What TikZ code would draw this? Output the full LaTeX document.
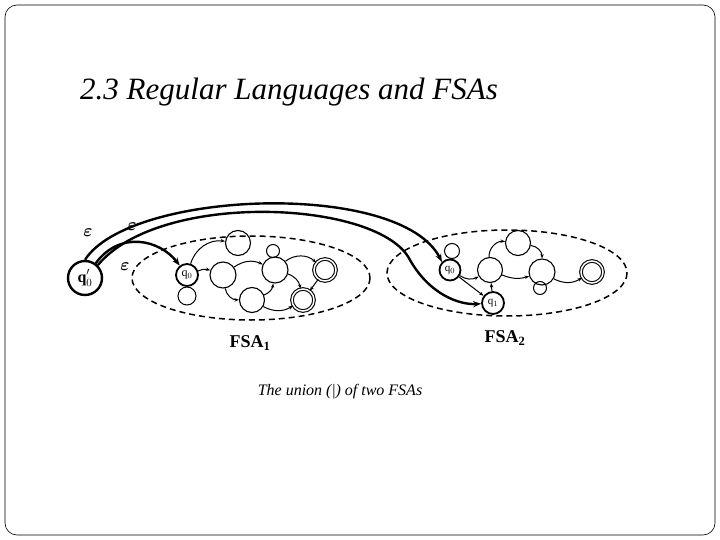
\documentclass[tikz,border=0pt]{standalone}
\usepackage{fontspec}
\setmainfont{Liberation Serif}
\usetikzlibrary{arrows.meta}
\begin{document}
\begin{tikzpicture}[x=1pt,y=-1pt,
 st/.style={circle,draw,line width=1.1pt,inner sep=0pt},
 fin/.style={st,double,double distance=1.5pt},
 lp/.style={circle,draw,line width=1pt,inner sep=0pt},
 ar/.style={-{Stealth[length=4.5pt]},line width=1pt},
 big/.style={-{Stealth[length=8pt]},line width=2.4pt},
 eps/.style={font=\fontsize{17}{18}\selectfont\boldmath},
 el/.style={draw,line width=1.5pt,dash pattern=on 6pt off 4pt}]
\useasboundingbox (0,0) rectangle (720,540);
\draw[rounded corners=12pt,line width=0.6pt] (5,5) rectangle (715,535);
\node[anchor=base west,inner sep=0pt,font=\itshape\fontsize{31}{34}\selectfont] (title) at (80,100) {2.3 Regular Languages and FSAs};
\draw[el] (251,278) ellipse [x radius=119, y radius=42];
\draw[el] (507,273) ellipse [x radius=120, y radius=43];
% FSA1
\node[st,line width=2.4pt,minimum size=34pt,font=\bfseries\fontsize{16}{16}\selectfont] (qp) at (85,278) {q$^{\prime}_{0}$};
\node[st,line width=1.8pt,minimum size=22pt,font=\fontsize{12}{12}\selectfont] (q0) at (187,275) {q$_0$};
\node[lp,minimum size=18pt] (l0) at (187,296) {};
\node[st,minimum size=25pt] (A) at (238,243) {};
\node[st,minimum size=26pt] (B) at (223,275) {};
\node[st,minimum size=25pt] (C) at (252,300) {};
\node[st,minimum size=26pt] (D) at (275,270) {};
\node[lp,minimum size=13pt] (lD) at (273,251) {};
\node[fin,minimum size=22pt] (F1) at (325,270) {};
\node[fin,minimum size=22pt] (F2) at (303,300) {};
\draw[ar] (q0) to[bend left=40] (A);
\draw[ar] (q0) to[bend left=20] (B);
\draw[ar] (B) to[bend left=30] (D);
\draw[ar] (B) to[bend right=40] (C);
\draw[ar] (C) to[bend right=30] (D);
\draw[ar] (D) to[bend left=40] (F1);
\draw[ar] (D) to[bend left=30] (F2);
\draw[ar] (C) to[bend right=30] (F2);
\draw[ar] (F1) to (F2);
\node[font=\bfseries\fontsize{18}{20}\selectfont] (L1) at (250,343) {FSA$_{\mathbf 1}$};
% FSA2
\node[st,line width=1.8pt,minimum size=21pt,font=\fontsize{11}{11}\selectfont] (r0) at (450,270) {q$_0$};
\node[lp,minimum size=15pt] (lr) at (452,251) {};
\node[st,minimum size=25pt] (B2) at (490,270) {};
\node[st,minimum size=25pt] (A2) at (518,243) {};
\node[st,minimum size=26pt] (D2) at (542,272) {};
\node[lp,minimum size=13pt] (lD2) at (540,288) {};
\node[fin,minimum size=22pt] (FF) at (592,272) {};
\node[st,line width=1.8pt,minimum size=22pt,font=\fontsize{11}{11}\selectfont] (r1) at (493,303) {q$_1$};
\draw[ar] (r0) to[bend right=30] (B2);
\draw[ar] (r0) to (r1);
\draw[ar] (r1) to (B2);
\draw[ar] (B2) to[bend left=50] (A2);
\draw[ar] (A2) to[bend left=40] (D2);
\draw[ar] (B2) to[bend right=20] (D2);
\draw[ar] (D2) to[bend right=30] (FF);
\node[font=\bfseries\fontsize{18}{20}\selectfont] (L2) at (505,338) {FSA$_{\mathbf 2}$};
% epsilon arcs
\draw[big] (qp) .. controls (120,230) and (160,240) .. (q0);
\draw[big] (qp.north) .. controls (130,190) and (400,180) .. (r0.north west);
\draw[big] (qp.north east) .. controls (160,190) and (380,200) .. (410,260) .. controls (430,295) and (460,305) .. (r1);
\node[eps] (e1) at (88,233) {$\varepsilon$};
\node[eps] (e2) at (132,227) {$\varepsilon$};
\node[eps] (e3) at (125,267) {$\varepsilon$};
\node[font=\itshape\fontsize{16}{18}\selectfont] (cap) at (340,392) {The union (\textup{|}) of two FSAs};
\end{tikzpicture}
\end{document}
